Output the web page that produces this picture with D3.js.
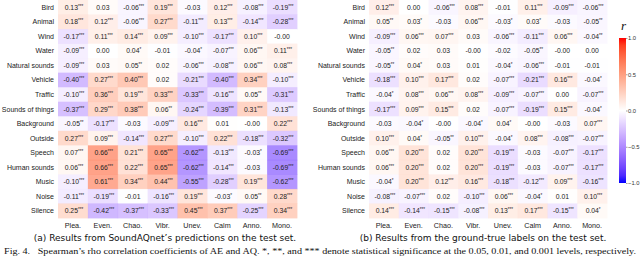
<!DOCTYPE html>
<html>
<head>
<meta charset="utf-8">
<script src="https://cdn.jsdelivr.net/npm/d3@7"></script>
<style>
  body { margin: 0; background: #fff; }
  svg { display: block; }
</style>
</head>
<body>
<div id="chart"></div>
<script>
const width = 640, height = 257;

const rowLabels = ["Bird", "Animal", "Wind", "Water", "Natural sounds", "Vehicle", "Traffic",
  "Sounds of things", "Background", "Outside", "Speech", "Human sounds", "Music", "Noise", "Silence"];
const colLabels = ["Plea.", "Even.", "Chao.", "Vibr.", "Unev.", "Calm", "Anno.", "Mono."];

// (a) SoundAQnet predictions
const cellsA = [
  ["0.13***", "0.03", "-0.06***", "0.19***", "-0.03", "0.12***", "-0.08***", "-0.19***"],
  ["0.18***", "0.12***", "-0.06***", "0.27***", "-0.11***", "0.13***", "-0.14***", "-0.28***"],
  ["-0.17***", "0.11***", "0.14***", "0.09***", "-0.10***", "-0.17***", "0.10***", "-0.00"],
  ["-0.09***", "0.00", "0.04*", "-0.01", "-0.04*", "-0.07***", "0.06***", "0.11***"],
  ["-0.09***", "0.03", "0.05**", "0.02", "-0.06***", "-0.08***", "0.06***", "0.08***"],
  ["-0.40***", "0.27***", "0.40***", "0.02", "-0.21***", "-0.40***", "0.34***", "-0.10***"],
  ["-0.10***", "0.36***", "0.19***", "0.33***", "-0.33***", "-0.16***", "0.05**", "-0.31***"],
  ["-0.37***", "0.29***", "0.38***", "0.06**", "-0.24***", "-0.39***", "0.31***", "-0.13***"],
  ["-0.05**", "-0.17***", "-0.03", "-0.09***", "0.16***", "0.01", "-0.00", "0.22***"],
  ["0.27***", "0.09***", "-0.14***", "0.27***", "-0.10***", "0.22***", "-0.18***", "-0.32***"],
  ["0.07***", "0.66***", "0.21***", "0.65***", "-0.62***", "-0.13***", "-0.03*", "-0.69***"],
  ["0.06***", "0.66***", "0.22***", "0.65***", "-0.62***", "-0.14***", "-0.03", "-0.69***"],
  ["-0.10***", "0.61***", "0.34***", "0.44***", "-0.55***", "-0.28***", "0.19***", "-0.62***"],
  ["-0.11***", "-0.19***", "-0.01", "-0.16***", "0.19***", "-0.03*", "0.05**", "0.28***"],
  ["0.25***", "-0.42***", "-0.37***", "-0.33***", "0.45***", "0.37***", "-0.25***", "0.34***"]
];

// (b) ground-true labels
const cellsB = [
  ["0.12***", "0.00", "-0.06***", "0.08***", "-0.01", "0.11***", "-0.09***", "-0.06***"],
  ["0.05**", "0.03*", "-0.03", "0.06***", "-0.03*", "0.03*", "-0.03", "-0.05**"],
  ["-0.09***", "0.06***", "0.07***", "0.03", "-0.06***", "-0.11***", "0.06***", "-0.04**"],
  ["-0.05**", "0.02", "0.03", "-0.00", "-0.02", "-0.05**", "-0.00", "0.00"],
  ["-0.05**", "0.04*", "0.03", "0.01", "-0.04*", "-0.06***", "-0.01", "-0.01"],
  ["-0.18***", "0.10***", "0.17***", "0.02", "-0.07***", "-0.21***", "0.16***", "-0.04*"],
  ["-0.04*", "0.08***", "0.06***", "0.08***", "-0.09***", "-0.07***", "0.00", "-0.07***"],
  ["-0.17***", "0.09***", "0.15***", "0.02", "-0.07***", "-0.19***", "0.15***", "-0.04*"],
  ["-0.03", "-0.04*", "-0.00", "-0.04*", "0.04*", "-0.00", "-0.03", "0.07***"],
  ["0.10***", "0.04*", "-0.05**", "0.10***", "-0.04*", "0.08***", "-0.08***", "-0.07***"],
  ["0.06***", "0.20***", "0.02", "0.20***", "-0.19***", "-0.03", "-0.07***", "-0.17***"],
  ["0.06***", "0.20***", "0.02", "0.20***", "-0.19***", "-0.03", "-0.07***", "-0.17***"],
  ["-0.04*", "0.20***", "0.12***", "0.16***", "-0.18***", "-0.12***", "0.09***", "-0.16***"],
  ["-0.08***", "-0.07***", "0.02", "-0.10***", "0.06***", "-0.04*", "0.01", "0.10***"],
  ["0.14***", "-0.14***", "-0.15***", "-0.08***", "0.13***", "0.17***", "-0.15***", "0.04*"]
];

const barTicks = [1.0, 0.5, 0.0, -0.5, -1.0];

const captionA = "(a) Results from SoundAQnet\u2019s predictions on the test set.";
const captionB = "(b) Results from the ground-true labels on the test set.";
const figCaption = "Fig. 4.\u2002 Spearman\u2019s rho correlation coefficients of AE and AQ. *, **, and *** denote statistical significance at the 0.05, 0.01, and 0.001 levels, respectively.";

const svg = d3.select("#chart").append("svg")
    .attr("width", width)
    .attr("height", height);

const sans = "'Liberation Sans', Arial, sans-serif";

const color = v => v >= 0
    ? d3.interpolateLab("#ffffff", "#ff0000")(Math.min(v, 1))
    : d3.interpolateLab("#ffffff", "#0000ff")(Math.min(-v, 1));

const y = d3.scaleBand()
    .domain(rowLabels)
    .range([0, 218]);

function drawPanel(cells, x0, x1, caption, capX) {
    const x = d3.scaleBand()
        .domain(colLabels)
        .range([x0, x1]);

    const g = svg.append("g");
    const data = [];
    cells.forEach((row, i) => row.forEach((s, j) => {
        const m = s.match(/^(-?[\d.]+)(\**)$/);
        data.push({ row: rowLabels[i], col: colLabels[j], num: m[1], stars: m[2], v: parseFloat(m[1]) });
    }));

    g.selectAll("rect")
        .data(data)
        .enter()
        .append("rect")
        .attr("x", d => x(d.col))
        .attr("y", d => y(d.row))
        .attr("width", x.bandwidth() + 0.4)
        .attr("height", y.bandwidth() + 0.4)
        .attr("fill", d => color(d.v))
        .attr("fill-opacity", 0.72);

    const t = g.selectAll("text.cell")
        .data(data)
        .enter()
        .append("text")
        .attr("class", "cell")
        .attr("x", d => x(d.col) + x.bandwidth() / 2 + (d.stars ? 1 : 0))
        .attr("y", d => y(d.row) + y.bandwidth() / 2 + 2.5)
        .attr("text-anchor", "middle")
        .style("font-family", sans)
        .style("font-size", "6.8px")
        .attr("fill", "#222");
    t.append("tspan").text(d => d.num);
    t.append("tspan")
        .attr("dy", -2)
        .style("font-size", "4.5px")
        .text(d => d.stars);

    g.selectAll("text.row")
        .data(rowLabels)
        .enter()
        .append("text")
        .attr("class", "row")
        .attr("x", x0 - 4)
        .attr("y", d => y(d) + y.bandwidth() / 2 + 2.5)
        .attr("text-anchor", "end")
        .style("font-family", sans)
        .style("font-size", "7px")
        .attr("fill", "#222")
        .text(d => d);

    g.selectAll("text.col")
        .data(colLabels)
        .enter()
        .append("text")
        .attr("class", "col")
        .attr("x", d => x(d) + x.bandwidth() / 2)
        .attr("y", 228)
        .attr("text-anchor", "middle")
        .style("font-family", sans)
        .style("font-size", "7.2px")
        .attr("fill", "#222")
        .text(d => d);

    svg.append("text")
        .attr("x", capX)
        .attr("y", 241)
        .attr("text-anchor", "middle")
        .style("font-family", "'DejaVu Sans', sans-serif")
        .style("font-size", "9px")
        .attr("fill", "#111")
        .text(caption);
}

drawPanel(cellsA, 58, 297, captionA, 165);
drawPanel(cellsB, 369, 607, captionB, 483);

// colour bar
const defs = svg.append("defs");
const grad = defs.append("linearGradient")
    .attr("id", "bar")
    .attr("x1", 0).attr("y1", 0)
    .attr("x2", 0).attr("y2", 1);
d3.range(0, 21).forEach(i => {
    const v = 1 - i / 10;
    grad.append("stop")
        .attr("offset", (i / 20 * 100) + "%")
        .attr("stop-color", color(v));
});

const yBar = d3.scaleLinear().domain([1, -1]).range([38, 183]);

svg.append("rect")
    .attr("x", 619)
    .attr("y", yBar(1))
    .attr("width", 7)
    .attr("height", yBar(-1) - yBar(1))
    .attr("fill", "url(#bar)");

const barAxis = svg.append("g")
    .attr("transform", "translate(626,0)")
    .call(d3.axisRight(yBar).tickValues(barTicks).tickSize(1.5).tickFormat(d3.format(".1f")));
barAxis.select(".domain").remove();
barAxis.selectAll("line").attr("stroke", "#444").attr("stroke-width", 0.5);
barAxis.selectAll("text")
    .attr("x", 2)
    .style("font-family", sans)
    .style("font-size", "5.8px")
    .attr("fill", "#333");

svg.append("text")
    .attr("x", 621)
    .attr("y", 30)
    .style("font-family", "'Liberation Serif', serif")
    .style("font-style", "italic")
    .style("font-size", "13px")
    .attr("fill", "#111")
    .text("r");

svg.append("text")
    .attr("x", 4)
    .attr("y", 254)
    .attr("textLength", 632)
    .attr("lengthAdjust", "spacingAndGlyphs")
    .style("font-family", "'Liberation Serif', serif")
    .style("font-size", "8.8px")
    .attr("fill", "#111")
    .text(figCaption);
</script>
</body>
</html>
